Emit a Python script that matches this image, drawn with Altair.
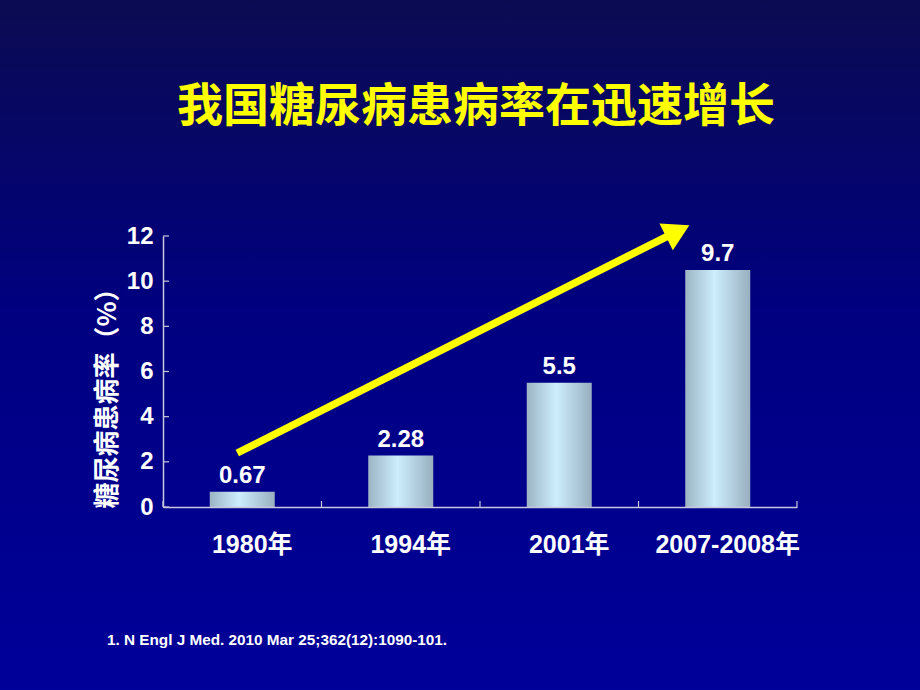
import altair as alt
import pandas as pd

# ---- data ----
categories = ["1980年", "1994年", "2001年", "2007-2008年"]
bar_heights = [0.67, 2.28, 5.5, 10.5]          # drawn bar heights
bar_labels = ["0.67", "2.28", "5.5", "9.7"]     # printed labels
y_ticks = [0, 2, 4, 6, 8, 10, 12]

# arrow annotation (data coordinates)
arrow_start_cat = "1980年"
arrow_end_cat = "2007-2008年"
arrow_start_y = 2.39
arrow_end_y = 12.22

title_text = "我国糖尿病患病率在迅速增长"
y_title = "糖尿病患病率（%）"
footnote = "1. N Engl J Med. 2010 Mar 25;362(12):1090-101."

W, H = 634, 271
PL, PT, PR, PB = 163, 236, 123, 183

LATIN = "Arial, 'Liberation Sans', 'Noto Sans CJK SC'"
CJK = "'Noto Sans CJK SC'"
YELLOW = "#ffff00"

bars_df = pd.DataFrame({"cat": categories, "value": bar_heights, "label": bar_labels})
ticks_df = pd.DataFrame({"t": y_ticks})
one = pd.DataFrame({"a": [0]})
arrow_df = pd.DataFrame({"x": [arrow_start_cat], "x2": [arrow_end_cat],
                         "y": [arrow_start_y], "y2": [arrow_end_y]})
head_df = pd.DataFrame({"x": [arrow_end_cat], "y": [arrow_end_y]})

xscale = alt.Scale(domain=categories, paddingInner=0, paddingOuter=0)
yscale = alt.Scale(domain=[0, 12], nice=False)

bg = alt.Chart(one).mark_rect(
    fill=alt.LinearGradient(
        gradient="linear", x1=0, x2=0, y1=0, y2=1,
        stops=[alt.GradientStop(offset=0, color="#0b0b52"),
               alt.GradientStop(offset=0.45, color="#000080"),
               alt.GradientStop(offset=1, color="#00009a")]),
).encode(x=alt.value(-PL), x2=alt.value(W + PR), y=alt.value(-PT), y2=alt.value(H + PB))

bars = alt.Chart(bars_df).mark_bar(
    size=65,
    fill=alt.LinearGradient(
        gradient="linear", x1=0, x2=1, y1=0, y2=0,
        stops=[alt.GradientStop(offset=0, color="#9cb4c4"),
               alt.GradientStop(offset=0.45, color="#cdeefd"),
               alt.GradientStop(offset=1, color="#98afbf")]),
).encode(
    x=alt.X("cat:N", scale=xscale, sort=categories,
            axis=alt.Axis(title=None, labelAngle=0, ticks=False, labelPadding=25,
                          labelOffset=10, labelFontSize=25, labelFont=LATIN,
                          labelFontWeight="bold", labelColor="white",
                          domainColor="#c8c8dc", domainWidth=1.5, zindex=1)),
    y=alt.Y("value:Q", scale=yscale,
            axis=alt.Axis(values=y_ticks, ticks=False, grid=False, labelPadding=10,
                          labelFontSize=24, labelFont=LATIN, labelFontWeight="bold",
                          labelColor="white", domainColor="#c8c8dc", domainWidth=1.5,
                          title=y_title, titleFont=CJK, titleFontSize=26,
                          titleFontWeight="bold", titleColor="white", titleAngle=270,
                          titleAlign="left", titleBaseline="middle",
                          titleX=-56, titleY=H + 1, zindex=1)),
)

labels = alt.Chart(bars_df).mark_text(
    font=LATIN, fontSize=24, fontWeight="bold", color="white",
    baseline="alphabetic", dy=-9,
).encode(x=alt.X("cat:N", scale=xscale, sort=categories), y=alt.Y("value:Q", scale=yscale),
         text="label:N")

ytick_marks = alt.Chart(ticks_df).mark_rule(color="#c8c8dc", strokeWidth=1.2).encode(
    y=alt.Y("t:Q", scale=yscale), x=alt.value(0), x2=alt.value(6))

xtick_start = alt.Chart(bars_df).mark_rule(color="#c8c8dc", strokeWidth=1.2).encode(
    x=alt.X("cat:N", scale=xscale, sort=categories, bandPosition=0),
    y=alt.value(H - 6), y2=alt.value(H))
xtick_end = alt.Chart(bars_df.tail(1)).mark_rule(color="#c8c8dc", strokeWidth=1.2).encode(
    x=alt.X("cat:N", scale=xscale, sort=categories, bandPosition=1),
    y=alt.value(H - 6), y2=alt.value(H))

arrow_line = alt.Chart(arrow_df).mark_rule(
    color=YELLOW, strokeWidth=7.5, xOffset=-5, x2Offset=-40,
).encode(x=alt.X("x:N", scale=xscale, sort=categories), x2="x2:N",
         y=alt.Y("y:Q", scale=yscale), y2="y2:Q")

arrow_head = alt.Chart(head_df).mark_point(
    shape="triangle-up", size=900, filled=True, color=YELLOW, opacity=1,
    angle=63.4, xOffset=-40,
).encode(x=alt.X("x:N", scale=xscale, sort=categories), y=alt.Y("y:Q", scale=yscale))

title = alt.Chart(one).mark_text(
    text=title_text, font=CJK, fontSize=46, fontWeight="bold", color=YELLOW,
    align="center", baseline="middle",
).encode(x=alt.value(476 - PL), y=alt.value(107 - PT))

foot = alt.Chart(one).mark_text(
    text=footnote, font=LATIN, fontSize=15.3, fontWeight="bold", color="white",
    align="left", baseline="middle",
).encode(x=alt.value(107 - PL), y=alt.value(640 - PT))

chart = alt.layer(
    bg, bars, labels, ytick_marks, xtick_start, xtick_end, arrow_line, arrow_head,
    title, foot
).properties(
    width=W, height=H,
    autosize=alt.AutoSizeParams(type="none"),
    padding={"left": PL, "top": PT, "right": PR, "bottom": PB},
).configure_view(stroke=None).configure(background="#00009a")

chart.save("out.html", embed_options={"renderer": "svg", "actions": False})
